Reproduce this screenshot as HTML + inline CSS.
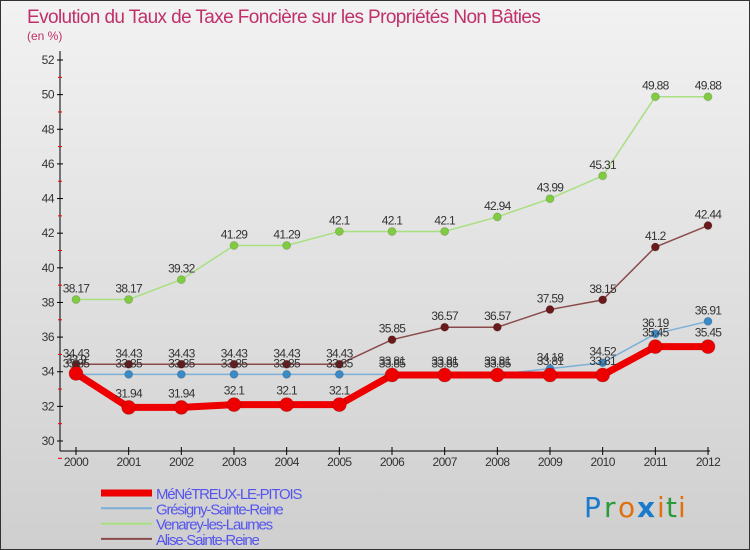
<!DOCTYPE html>
<html><head><meta charset="utf-8"><style>
body{margin:0}
#c{width:750px;height:550px;position:relative;background:linear-gradient(#f2f2f2,#cfcfcf);box-sizing:border-box;border:1px solid #333;font-family:"Liberation Sans",sans-serif;overflow:hidden}
</style></head><body>
<div id="c">
<svg width="750" height="550" style="position:absolute;left:0;top:0">
<text x="26" y="22" font-size="19" fill="#c0306a" letter-spacing="-0.6">Evolution du Taux de Taxe Foncière sur les Propriétés Non Bâties</text>
<text x="26" y="39" font-size="12" fill="#c0306a">(en %)</text>
<g id="axes"></g><g id="series"></g><g id="legend"></g>
<g font-size="28" font-family="'DejaVu Sans',sans-serif">
<text x="583" y="516" fill="#1a7acc">P</text><text x="603" y="516" fill="#2a9a3a">r</text><text x="617" y="516" fill="#e07010">o</text><text x="636" y="516" fill="#1a7acc" font-weight="bold">x</text><text x="656" y="516" fill="#e07010">i</text><text x="665" y="516" fill="#2a9a3a">t</text><text x="677" y="516" fill="#e07010">i</text>
</g>
</svg>
</div>
<script>
const years=[2000,2001,2002,2003,2004,2005,2006,2007,2008,2009,2010,2011,2012];
const yTicks=[30,32,34,36,38,40,42,44,46,48,50,52];
const menetreux=[33.9,31.94,31.94,32.1,32.1,32.1,33.81,33.81,33.81,33.81,33.81,35.45,35.45];
const gresigny=[33.85,33.85,33.85,33.85,33.85,33.85,33.85,33.85,33.85,34.18,34.52,36.19,36.91];
const venarey=[38.17,38.17,39.32,41.29,41.29,42.1,42.1,42.1,42.94,43.99,45.31,49.88,49.88];
const alise=[34.43,34.43,34.43,34.43,34.43,34.43,35.85,36.57,36.57,37.59,38.15,41.2,42.44];
const NS="http://www.w3.org/2000/svg";
const X=i=>75+i*(707-75)/(years.length-1);
const Y=v=>440-(v-30)*(440-59)/22;
function el(t,a,p){const e=document.createElementNS(NS,t);for(const k in a)e.setAttribute(k,a[k]);p.appendChild(e);return e;}
const ax=document.getElementById('axes'),sg=document.getElementById('series'),lg=document.getElementById('legend');
let l=el('line',{x1:59,y1:50,x2:59,y2:450,stroke:'#000','stroke-width':1},ax);

l=el('line',{x1:59,y1:450,x2:709,y2:450,stroke:'#000','stroke-width':1},ax);

yTicks.forEach(v=>{const y=Y(v);
el('line',{x1:56,y1:y,x2:62,y2:y,stroke:'#000'},ax);
el('line',{x1:57,y1:y+(440-59)/22,x2:61,y2:y+(440-59)/22,stroke:'#e00'},ax);
const t=el('text',{x:53,y:y+4,'font-size':12,fill:'#333','text-anchor':'end','letter-spacing':'-0.5'},ax);t.textContent=v;
});
years.forEach((yr,i)=>{el('line',{x1:X(i),y1:446,x2:X(i),y2:454,stroke:'#000'},ax);
const t=el('text',{x:X(i),y:465,'font-size':12,fill:'#333','text-anchor':'middle','letter-spacing':'-0.6'},ax);t.textContent=yr;
});
function series(d,name,col,dot,w,r,dy){
const g=el('g',{},sg);
el('polyline',{points:d.map((v,i)=>X(i)+','+Y(v)).join(' '),fill:'none',stroke:col,'stroke-width':w,'stroke-linejoin':'round'},g);
d.forEach((v,i)=>{const c=el('circle',{cx:X(i),cy:Y(v),r:r,fill:dot,stroke:'rgba(0,0,0,0.15)'},g);

const t=el('text',{x:X(i),y:Y(v)+dy,'font-size':12,fill:'#333','text-anchor':'middle','letter-spacing':'-0.7'},g);t.textContent=v;});}
series(venarey,'venarey-series','#a8e080','#80cc40',1.5,4,-7);
series(alise,'alise-series','#8a4a4a','#6a1a1a',1.5,4,-7);
series(gresigny,'gresigny-series','#7ab0d8','#3a8ac8',1.5,4,-7);
series(menetreux,'menetreux-series','#ee0000','#ee0000',7,7,-10);
const leg=[['MéNéTREUX-LE-PITOIS','#ee0000',7],['Grésigny-Sainte-Reine','#7ab0d8',2],['Venarey-les-Laumes','#a8e080',2],['Alise-Sainte-Reine','#8a4a4a',2]];
leg.forEach((e,i)=>{const y=492+i*15.3;const g=el('g',{},lg);

el('line',{x1:100,y1:y,x2:151,y2:y,stroke:e[1],'stroke-width':e[2]},g);
const t=el('text',{x:155,y:y+6,'font-size':15,fill:'#5555ee','letter-spacing':'-1.2'},g);t.textContent=e[0];});
</script>
</body></html>
